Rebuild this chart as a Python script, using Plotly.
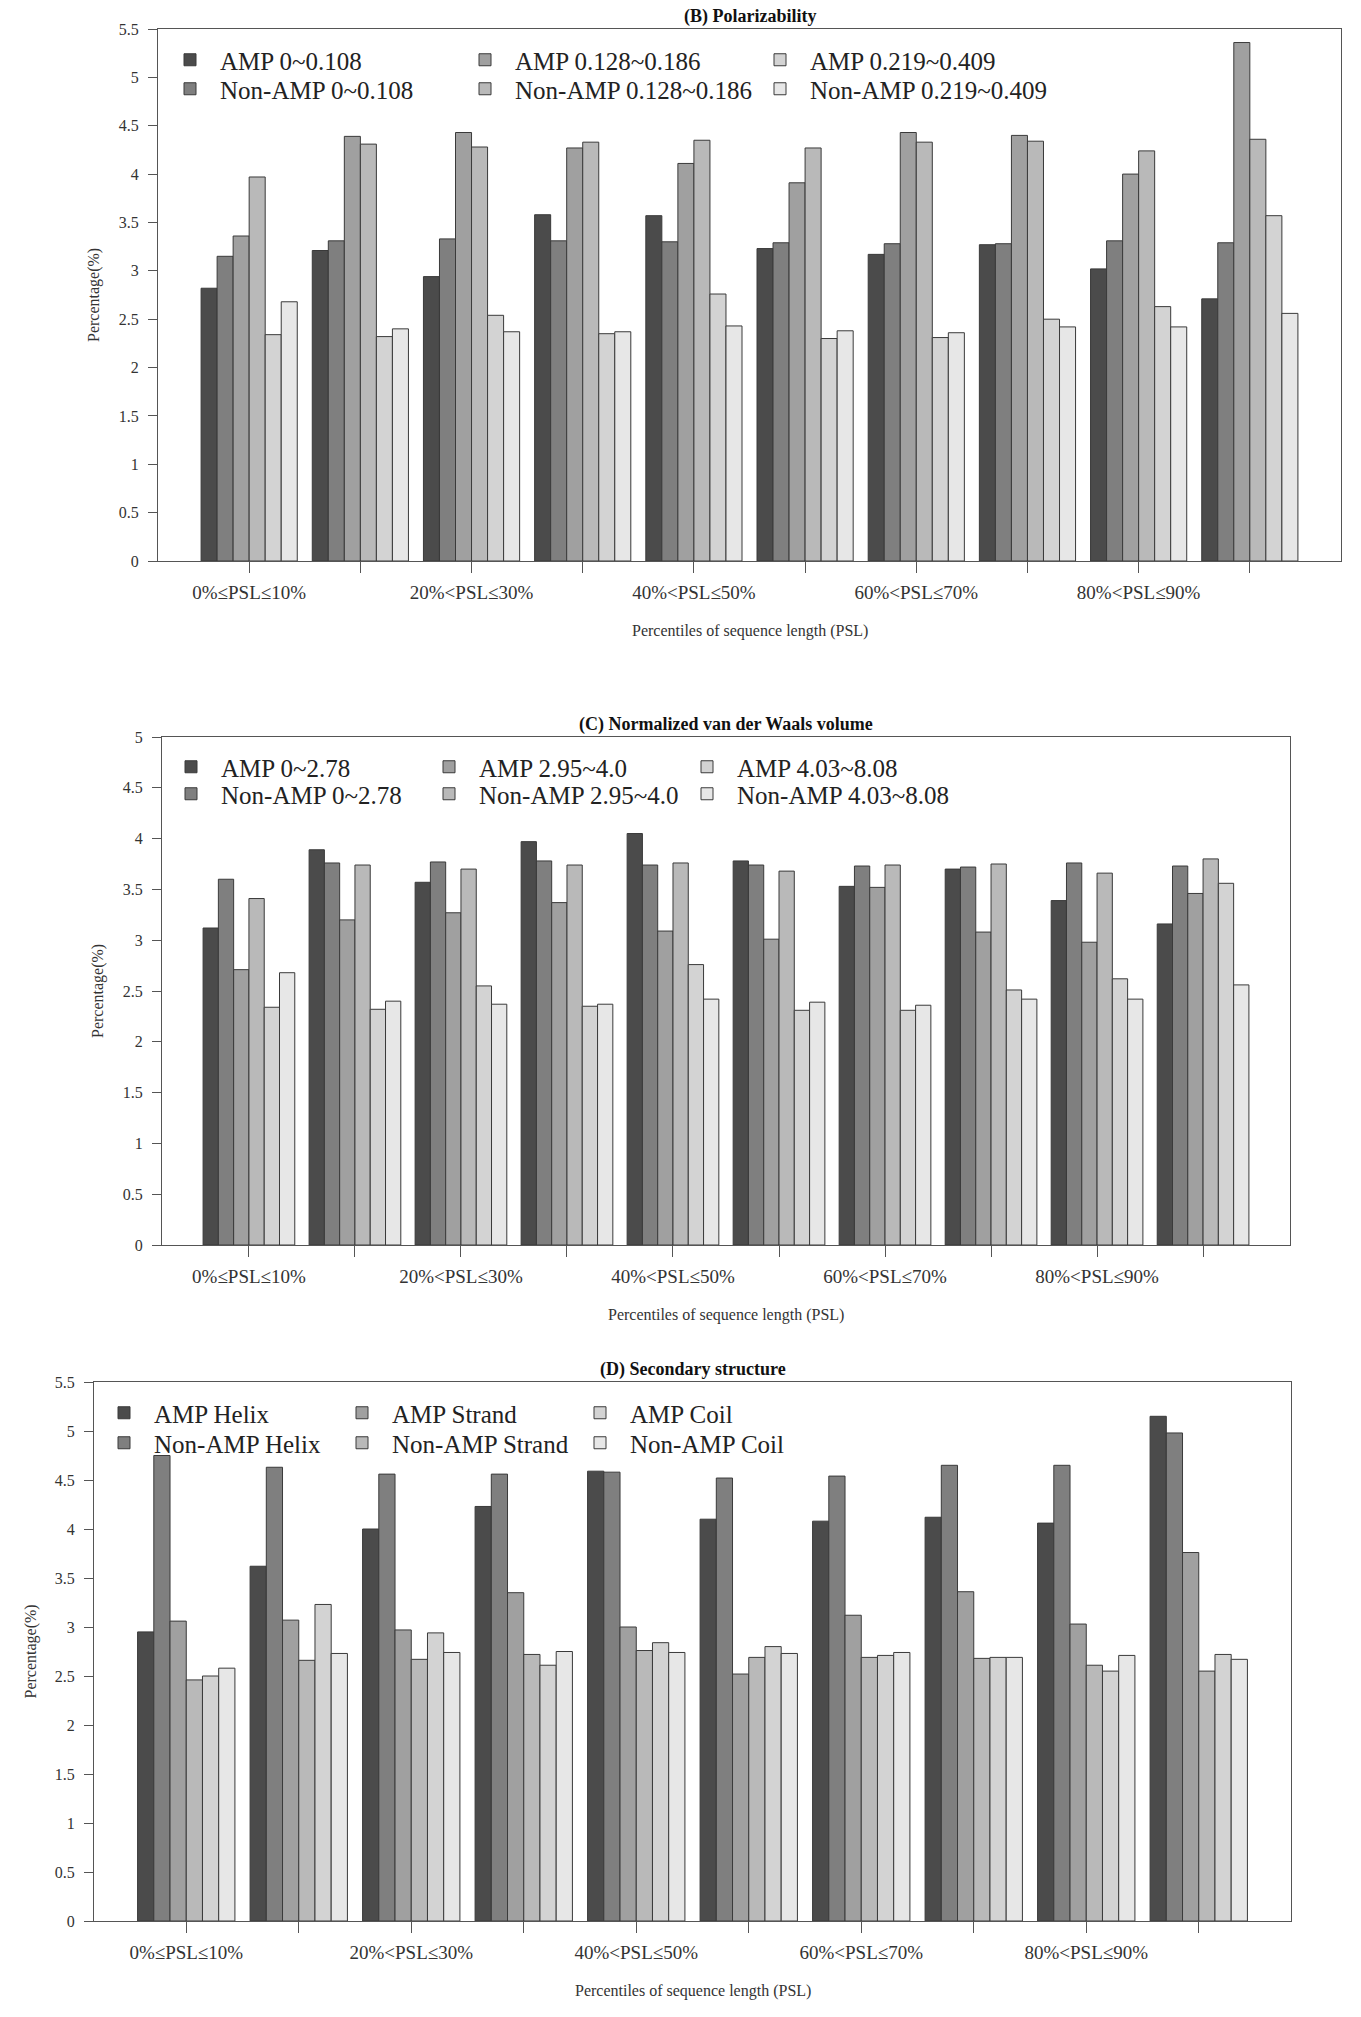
import plotly.graph_objects as go

# ---------------- data ----------------
categories = ["0%≤PSL≤10%", "10%<PSL≤20%", "20%<PSL≤30%", "30%<PSL≤40%", "40%<PSL≤50%",
              "50%<PSL≤60%", "60%<PSL≤70%", "70%<PSL≤80%", "80%<PSL≤90%", "90%<PSL≤100%"]
tick_text = ["0%≤PSL≤10%", "", "20%<PSL≤30%", "", "40%<PSL≤50%",
             "", "60%<PSL≤70%", "", "80%<PSL≤90%", ""]

# (B) Polarizability
b_names = ["AMP 0~0.108", "Non-AMP 0~0.108", "AMP 0.128~0.186",
           "Non-AMP 0.128~0.186", "AMP 0.219~0.409", "Non-AMP 0.219~0.409"]
b_amp_1 = [2.82, 3.21, 2.94, 3.58, 3.57, 3.23, 3.17, 3.27, 3.02, 2.71]
b_non_1 = [3.15, 3.31, 3.33, 3.31, 3.30, 3.29, 3.28, 3.28, 3.31, 3.29]
b_amp_2 = [3.36, 4.39, 4.43, 4.27, 4.11, 3.91, 4.43, 4.40, 4.00, 5.36]
b_non_2 = [3.97, 4.31, 4.28, 4.33, 4.35, 4.27, 4.33, 4.34, 4.24, 4.36]
b_amp_3 = [2.34, 2.32, 2.54, 2.35, 2.76, 2.30, 2.31, 2.50, 2.63, 3.57]
b_non_3 = [2.68, 2.40, 2.37, 2.37, 2.43, 2.38, 2.36, 2.42, 2.42, 2.56]

# (C) Normalized van der Waals volume
c_names = ["AMP 0~2.78", "Non-AMP 0~2.78", "AMP 2.95~4.0",
           "Non-AMP 2.95~4.0", "AMP 4.03~8.08", "Non-AMP 4.03~8.08"]
c_amp_1 = [3.12, 3.89, 3.57, 3.97, 4.05, 3.78, 3.53, 3.70, 3.39, 3.16]
c_non_1 = [3.60, 3.76, 3.77, 3.78, 3.74, 3.74, 3.73, 3.72, 3.76, 3.73]
c_amp_2 = [2.71, 3.20, 3.27, 3.37, 3.09, 3.01, 3.52, 3.08, 2.98, 3.46]
c_non_2 = [3.41, 3.74, 3.70, 3.74, 3.76, 3.68, 3.74, 3.75, 3.66, 3.80]
c_amp_3 = [2.34, 2.32, 2.55, 2.35, 2.76, 2.31, 2.31, 2.51, 2.62, 3.56]
c_non_3 = [2.68, 2.40, 2.37, 2.37, 2.42, 2.39, 2.36, 2.42, 2.42, 2.56]

# (D) Secondary structure
d_names = ["AMP Helix", "Non-AMP Helix", "AMP Strand",
           "Non-AMP Strand", "AMP Coil", "Non-AMP Coil"]
d_amp_helix = [2.95, 3.62, 4.00, 4.23, 4.59, 4.10, 4.08, 4.12, 4.06, 5.15]
d_non_helix = [4.75, 4.63, 4.56, 4.56, 4.58, 4.52, 4.54, 4.65, 4.65, 4.98]
d_amp_strand = [3.06, 3.07, 2.97, 3.35, 3.00, 2.52, 3.12, 3.36, 3.03, 3.76]
d_non_strand = [2.46, 2.66, 2.67, 2.72, 2.76, 2.69, 2.69, 2.68, 2.61, 2.55]
d_amp_coil = [2.50, 3.23, 2.94, 2.61, 2.84, 2.80, 2.71, 2.69, 2.55, 2.72]
d_non_coil = [2.58, 2.73, 2.74, 2.75, 2.74, 2.73, 2.74, 2.69, 2.71, 2.67]

y_ticks_55 = [0, 0.5, 1, 1.5, 2, 2.5, 3, 3.5, 4, 4.5, 5, 5.5]
y_ticks_5 = [0, 0.5, 1, 1.5, 2, 2.5, 3, 3.5, 4, 4.5, 5]

# ---------------- style ----------------
W, H = 1361, 2017
FONT = "Liberation Serif, Times New Roman, serif"
fills = ["#4b4b4b", "#7f7f7f", "#a0a0a0", "#b9b9b9", "#d3d3d3", "#e7e7e7"]
edge = "#3a3a3a"
axcol = "#555555"


def fx(p):
    return p / W


def fy(p):
    return 1 - p / H


panels = [
    dict(key="", names=b_names,
         series=[b_amp_1, b_non_1, b_amp_2, b_non_2, b_amp_3, b_non_3],
         x0=158, x1=1341, y0=29, y1=561, ymax=5.5, yt=y_ticks_55,
         title="<b>(B) Polarizability</b>",
         leg_x=160, leg_y=(37, 66), ew=230),
    dict(key="2", names=c_names,
         series=[c_amp_1, c_non_1, c_amp_2, c_non_2, c_amp_3, c_non_3],
         x0=162, x1=1290, y0=737, y1=1245, ymax=5.0, yt=y_ticks_5,
         title="<b>(C) Normalized van der Waals volume</b>",
         leg_x=161, leg_y=(744, 771), ew=193),
    dict(key="3", names=d_names,
         series=[d_amp_helix, d_non_helix, d_amp_strand, d_non_strand, d_amp_coil, d_non_coil],
         x0=94, x1=1291, y0=1382, y1=1921, ymax=5.5, yt=y_ticks_55,
         title="<b>(D) Secondary structure</b>",
         leg_x=94, leg_y=(1390, 1420), ew=173),
]

fig = go.Figure()
annotations = []
layout = dict(
    width=W, height=H, margin=dict(l=0, r=0, t=0, b=0),
    paper_bgcolor="white", plot_bgcolor="white",
    barmode="group", bargap=0.135, bargroupgap=0,
    font=dict(family=FONT, color="#222222"),
    showlegend=True,
)

for pi, p in enumerate(panels):
    k = p["key"]
    xa = "x" + k
    ya = "y" + k
    leg_a = "legend" if pi == 0 else "legend%d" % (2 * pi + 1)
    leg_b = "legend%d" % (2 * pi + 2)
    for si, (name, vals) in enumerate(zip(p["names"], p["series"])):
        extra = {}
        if si >= 4:  # last legend column: allow room for full text
            extra["legendwidth"] = p["ew"] + 120
        fig.add_trace(go.Bar(
            x=categories, y=vals, name=name,
            xaxis=xa, yaxis=ya,
            marker=dict(color=fills[si], line=dict(color=edge, width=1)),
            legend=leg_a if si % 2 == 0 else leg_b,
            hoverinfo="x+y+name",
            **extra,
        ))
    ax_common = dict(showline=True, linecolor=axcol, linewidth=1.2, mirror=True,
                     ticks="outside", tickcolor=axcol, showgrid=False, zeroline=False,
                     automargin=False)
    layout["xaxis" + k] = dict(
        domain=[fx(p["x0"]), fx(p["x1"])], anchor=ya,
        type="category", range=[-0.82, 9.82],
        tickmode="array", tickvals=categories, ticktext=tick_text,
        ticklen=11, tickwidth=1, ticklabelstandoff=3,
        tickfont=dict(family=FONT, size=19, color="#333333"),
        **ax_common)
    layout["yaxis" + k] = dict(
        domain=[fy(p["y1"]), fy(p["y0"])], anchor=xa,
        range=[0, p["ymax"]], tickmode="array", tickvals=p["yt"],
        ticktext=[("%g" % v) for v in p["yt"]],
        ticklen=9, tickwidth=1, ticklabelstandoff=6,
        tickfont=dict(family=FONT, size=16, color="#333333"),
        **ax_common)
    for li, leg in enumerate((leg_a, leg_b)):
        layout[leg] = dict(
            orientation="h", x=fx(p["leg_x"]), y=fy(p["leg_y"][li]),
            xanchor="left", yanchor="top",
            entrywidth=p["ew"], entrywidthmode="pixels", itemwidth=50,
            bgcolor="rgba(0,0,0,0)", borderwidth=0,
            font=dict(family=FONT, size=25, color="#222222"),
            itemclick=False, itemdoubleclick=False,
        )
    cx = (p["x0"] + p["x1"]) / 2
    annotations.append(dict(
        text=p["title"], x=fx(cx), y=fy(p["y0"]), xref="paper", yref="paper",
        xanchor="center", yanchor="bottom", showarrow=False,
        font=dict(family=FONT, size=18, color="#111111")))
    annotations.append(dict(
        text="Percentage(%)", x=fx(p["x0"] - 64), y=fy((p["y0"] + p["y1"]) / 2),
        xref="paper", yref="paper", xanchor="center", yanchor="middle",
        textangle=-90, showarrow=False,
        font=dict(family=FONT, size=16, color="#333333")))
    annotations.append(dict(
        text="Percentiles of sequence length (PSL)", x=fx(cx), y=fy(p["y1"] + 70),
        xref="paper", yref="paper", xanchor="center", yanchor="middle",
        showarrow=False, font=dict(family=FONT, size=16, color="#333333")))

layout["annotations"] = annotations
fig.update_layout(**layout)

fig.write_html("out.html", config={"displayModeBar": False},
               post_script="document.body.style.margin='0';document.body.style.overflow='hidden';")
